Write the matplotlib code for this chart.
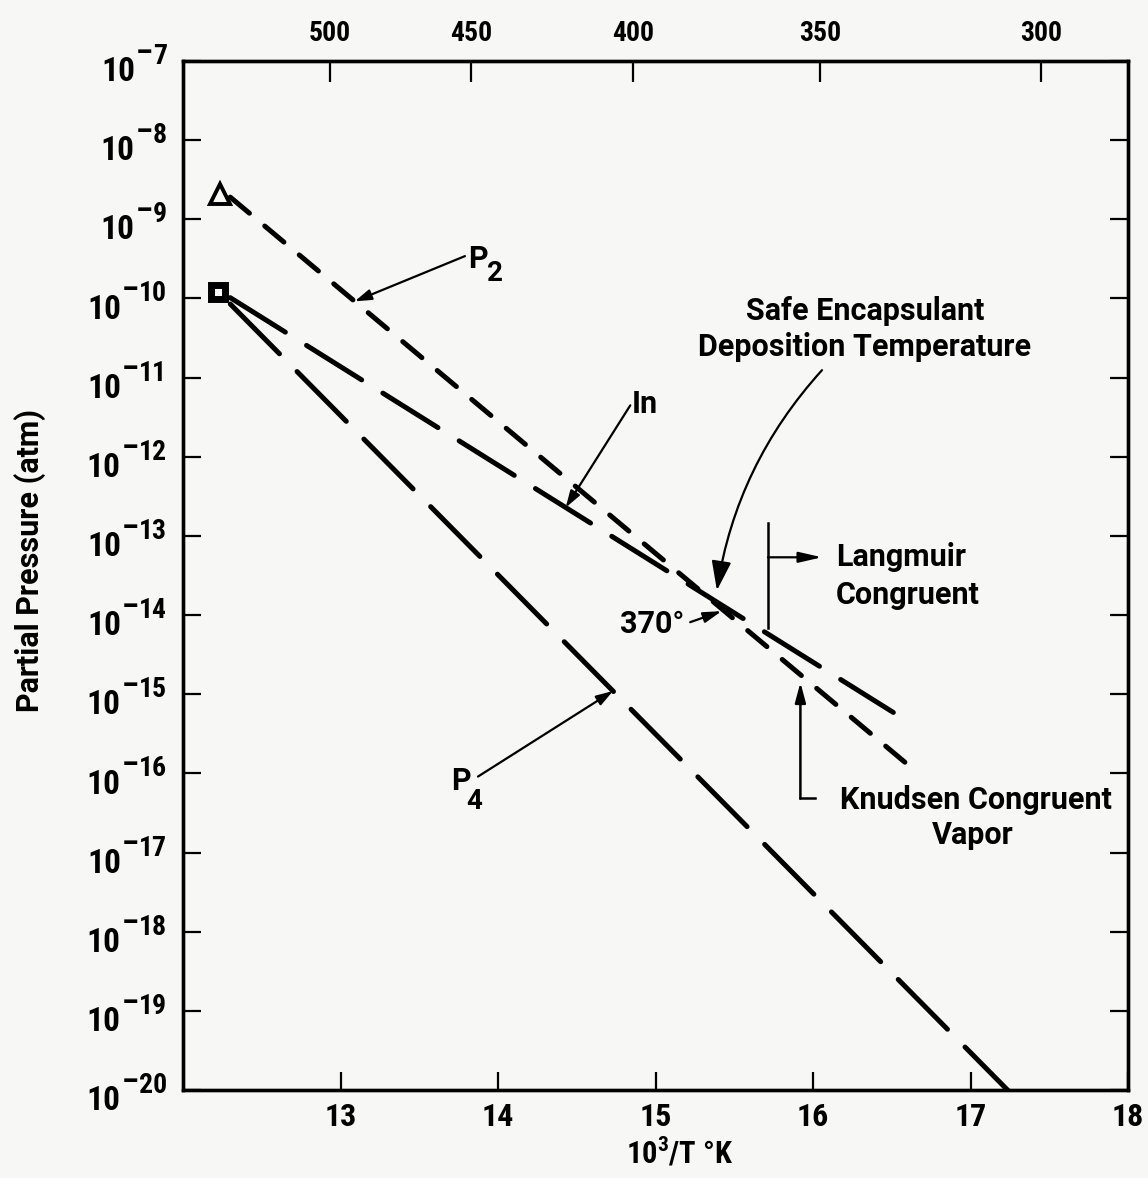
import numpy as np
import matplotlib
matplotlib.use("Agg")
import matplotlib.pyplot as plt
from matplotlib import font_manager as fm
from matplotlib.ticker import NullLocator
from matplotlib.transforms import ScaledTranslation


def pick_font(*names):
    for name in names:
        try:
            fm.findfont(fm.FontProperties(family=name), fallback_to_default=False)
            return name
        except ValueError:
            pass
    return "DejaVu Sans"


NARROW = pick_font("Liberation Sans Narrow", "Roboto Condensed", "DejaVu Sans")
WIDE = pick_font("Roboto", "Liberation Sans", "DejaVu Sans")
plt.rcParams["font.family"] = [WIDE, "DejaVu Sans"]
plt.rcParams["font.weight"] = "bold"
plt.rcParams["axes.labelweight"] = "bold"
plt.rcParams["mathtext.default"] = "regular"

# ---- data -------------------------------------------------------------
x_ticks = [13, 14, 15, 16, 17, 18]
x_tick_labels = ["13", "14", "15", "16", "17", "18"]
temps_c = [500, 450, 400, 350, 300]          # top axis, degrees C
decades = list(range(-7, -21, -1))           # log10 of partial pressure

# straight-line vapour pressure curves: endpoints (x, log10 p)
p2_x = [12.30, 16.62]
p2_log = [-8.72, -15.92]
in_x = [12.30, 16.51]
in_log = [-9.99, -15.23]
p4_x = [12.30, 17.26]
p4_log = [-10.07, -20.05]

# measured points
tri_x, tri_log = 12.235, -8.68
sq_x, sq_log = 12.22, -9.92

BG = "#f7f7f5"
LW = 3.6

fig = plt.figure(figsize=(11.48, 11.78), dpi=100, facecolor=BG)
ax = fig.add_axes([183 / 1148, 1 - 1090 / 1178, 945 / 1148, 1029 / 1178])
ax.set_facecolor(BG)
ax.set_yscale("log")
ax.set_xlim(12, 18)
ax.set_ylim(1e-20, 1e-7)


def p(v):
    return 10.0 ** np.asarray(v, dtype=float)


ax.plot(p2_x, p(p2_log), color="k", lw=LW, linestyle=(0, (5, 4)),
        dash_capstyle="round")
ax.plot(in_x, p(in_log), color="k", lw=LW, linestyle=(0, (13, 5)),
        dash_capstyle="round")
ax.plot(p4_x, p(p4_log), color="k", lw=LW, linestyle=(0, (14, 5)),
        dash_capstyle="round")

ax.plot([tri_x], p([tri_log]), marker="^", ms=15, mfc=BG, mec="k", mew=2.8,
        linestyle="none")
ax.plot([sq_x], p([sq_log]), marker="s", ms=10, mfc="white", mec="k", mew=5,
        linestyle="none")

# ---- axes, ticks ------------------------------------------------------
for s in ax.spines.values():
    s.set_linewidth(2.4)

ax.set_yticks(p(decades))
ax.yaxis.set_minor_locator(NullLocator())
ax.tick_params(axis="y", which="major", direction="in", length=13, width=1.6,
               left=True, right=True, labelleft=False)
ax.set_xticks(x_ticks)
ax.set_xticklabels(x_tick_labels, fontfamily=NARROW)
ax.tick_params(axis="x", which="major", direction="in", length=13, width=1.6,
               labelsize=23, pad=9)

ax_top = ax.twiny()
ax_top.set_xlim(12, 18)
ax_top.set_xticks([1e4 / (t + 273.15) for t in temps_c])
ax_top.set_xticklabels([str(t) for t in temps_c], fontfamily=NARROW)
ax_top.tick_params(axis="x", direction="in", length=15, width=1.6,
                   labelsize=20, pad=10)
for s in ax_top.spines.values():
    s.set_linewidth(2.4)

# y tick labels: "10" followed by a raised minus sign and exponent digits
ytr = ax.get_yaxis_transform()
for d in decades:
    tr = ytr + ScaledTranslation(0, -3 / 100, fig.dpi_scale_trans)
    digits = ax.text((167 - 183) / 945, 10.0 ** d, "%d" % (-d), transform=tr,
                     ha="right", va="baseline", fontsize=20, fontfamily=NARROW)
    minus = ax.annotate("\u2013", xy=(0, 10.0 ** d), xycoords=(digits, ytr),
                        xytext=(-0.5, -0.5), textcoords="offset points",
                        ha="right", va="baseline", fontsize=22,
                        fontfamily=NARROW)
    ax.annotate("10", xy=(0, 10.0 ** d), xycoords=(minus, ytr),
                xytext=(-0.5, -14.5), textcoords="offset points",
                ha="right", va="baseline", fontsize=24, fontfamily=NARROW)

ax.set_ylabel("Partial Pressure (atm)", fontsize=22)
ax.yaxis.set_label_coords(-0.145, 0.515)
ax.set_xlabel(r"$10^3$/T °K", fontsize=22, fontfamily=NARROW)
ax.xaxis.set_label_coords(0.526, -0.045)


# ---- annotations --------------------------------------------------------
def on_line(xs, logs, x):
    return 10.0 ** np.interp(x, xs, logs)


def arrow(tail, head, rad=0.0, hl=0.5, hw=0.16, lw=1.6):
    ax.annotate("", xy=head, xytext=tail,
                arrowprops=dict(arrowstyle=f"-|>,head_length={hl},head_width={hw}",
                                color="k", lw=lw, shrinkA=0, shrinkB=0,
                                mutation_scale=20,
                                connectionstyle=f"arc3,rad={rad}"))


TXT = 22
SUB = 20

# P2
ax.text(13.81, p(-9.617), "P", fontsize=TXT, ha="left", va="baseline")
ax.text(13.93, p(-9.78), "2", fontsize=SUB, ha="left", va="baseline")
arrow((13.79, p(-9.465)), (13.09, on_line(p2_x, p2_log, 13.09)))

# In
ax.text(14.85, p(-11.45), "In", fontsize=TXT, ha="left", va="baseline")
arrow((14.84, p(-11.35)), (14.43, on_line(in_x, in_log, 14.43)))

# Safe encapsulant deposition temperature
ax.text(16.33, p(-10.27), "Safe Encapsulant", fontsize=TXT, ha="center", va="baseline")
ax.text(16.33, p(-10.73), "Deposition Temperature", fontsize=TXT, ha="center", va="baseline")
arrow((16.057, p(-10.906)), (15.39, p(-13.688)), rad=0.15, hl=0.9, hw=0.3)

# Langmuir congruent
ax.plot([15.714, 15.714], p([-12.84, -14.16]), color="k", lw=1.8)
arrow((15.714, p(-13.27)), (16.057, p(-13.27)), hl=0.7, hw=0.16)
ax.text(16.146, p(-13.384), "Langmuir", fontsize=TXT, ha="left", va="baseline")
ax.text(16.146, p(-13.865), "Congruent", fontsize=TXT, ha="left", va="baseline")

# 370 degree point
ax.text(14.775, p(-14.23), "370°", fontsize=TXT, ha="left", va="baseline")
arrow((15.22, p(-14.09)), (15.42, p(-13.95)), hl=0.55, hw=0.16)

# Knudsen congruent vapor
ax.plot([16.01, 15.92], p([-16.317, -16.317]), color="k", lw=1.8)
arrow((15.92, p(-16.317)), (15.92, p(-14.85)), hl=0.6, hw=0.16, lw=1.8)
ax.text(17.035, p(-16.444), "Knudsen Congruent", fontsize=TXT, ha="center", va="baseline")
ax.text(17.016, p(-16.886), "Vapor", fontsize=TXT, ha="center", va="baseline")

# P4
ax.text(13.70, p(-16.216), "P", fontsize=TXT, ha="left", va="baseline")
ax.text(13.80, p(-16.444), "4", fontsize=SUB, ha="left", va="baseline")
arrow((13.873, p(-16.04)), (14.73, on_line(p4_x, p4_log, 14.73)))

fig.savefig("out.png", dpi=100, facecolor=BG)
